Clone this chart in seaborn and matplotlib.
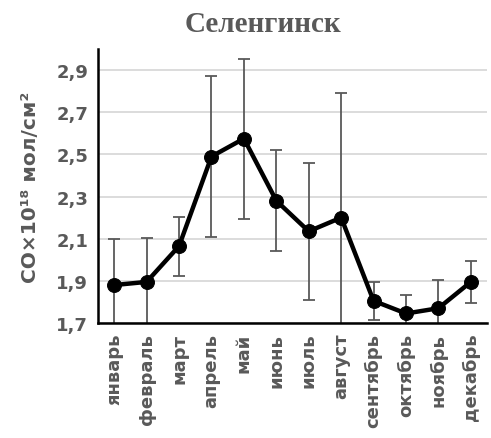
import pandas as pd
import matplotlib
matplotlib.use("Agg")
import matplotlib.pyplot as plt
import seaborn as sns

months = ["январь", "февраль", "март", "апрель", "май", "июнь",
          "июль", "август", "сентябрь", "октябрь", "ноябрь", "декабрь"]
co_values = [1.88, 1.895, 2.065, 2.49, 2.575, 2.28,
             2.135, 2.20, 1.805, 1.745, 1.77, 1.895]
co_err = [0.22, 0.21, 0.14, 0.38, 0.38, 0.24,
          0.325, 0.59, 0.09, 0.09, 0.135, 0.10]
y_ticks = [1.7, 1.9, 2.1, 2.3, 2.5, 2.7, 2.9]

df = pd.DataFrame({"month": months, "co": co_values, "err": co_err})
df["x"] = range(len(df))

sns.set_style("white")
plt.rcParams["font.family"] = ["DejaVu Sans"]

gray = "#595959"
fig = plt.figure(figsize=(4.91, 4.39), dpi=100)
ax = fig.add_axes([0.1996, 0.262, 0.7924, 0.624])

ax.errorbar(df["x"], df["co"], yerr=df["err"], fmt="none",
            ecolor=gray, elinewidth=1.3, capsize=4, capthick=1.3, zorder=2)
sns.lineplot(data=df, x="x", y="co", ax=ax, color="black", linewidth=3.2,
             marker="o", markersize=10, markeredgecolor="black", zorder=3)

ax.set_xlim(-0.5, len(months) - 0.5)
ax.set_ylim(1.7, 3.0)
ax.set_yticks(y_ticks)
ax.set_yticklabels([f"{v:.1f}".replace(".", ",") for v in y_ticks],
                   fontsize=13, fontweight="bold", color=gray)
ax.set_xticks(df["x"])
ax.set_xticklabels(months, rotation=90, fontsize=13, fontweight="bold", color=gray)
ax.tick_params(axis="both", length=0, pad=7)
ax.grid(axis="y", color="#d9d9d9", linewidth=1.3)
ax.set_axisbelow(True)

for side in ["top", "right"]:
    ax.spines[side].set_visible(False)
for side in ["left", "bottom"]:
    ax.spines[side].set_color("black")
    ax.spines[side].set_linewidth(1.8)

ax.set_xlabel("")
ax.set_ylabel("CO×10¹⁸ мол/см²", fontsize=14.5, fontweight="bold", color=gray, labelpad=12)

fig.text(0.535, 0.945, "Селенгинск", ha="center", va="center", fontsize=21,
         fontweight="bold", color=gray, family="Liberation Serif")

fig.savefig("out.png", dpi=100)
